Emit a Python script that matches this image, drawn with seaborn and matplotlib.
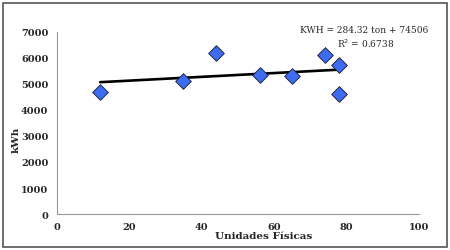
import matplotlib
matplotlib.use('Agg')
import matplotlib.pyplot as plt
import seaborn as sns
import pandas as pd
from matplotlib.patches import Rectangle

unidades = [12, 35, 44, 56, 65, 74, 78, 78]
kwh = [4700, 5100, 6180, 5340, 5280, 6100, 5720, 4590]
x_ticks = [0, 20, 40, 60, 80, 100]
y_ticks = [0, 1000, 2000, 3000, 4000, 5000, 6000, 7000]
equation = 'KWH = 284.32 ton + 74506'
r2_text = 'R$^2$ = 0.6738'

df = pd.DataFrame({'Unidades Físicas': unidades, 'kWh': kwh})

sns.set_style('white')
plt.rcParams['font.family'] = ['DejaVu Serif']

fig = plt.figure(figsize=(4.5, 2.51), dpi=100)
ax = fig.add_axes([0.126, 0.143, 0.805, 0.727])

sns.regplot(x='Unidades Físicas', y='kWh', data=df, ax=ax, ci=None,
            marker='D',
            scatter_kws={'s': 64, 'color': '#3d6cf0', 'edgecolor': '#1a1a2e',
                         'linewidths': 0.6, 'alpha': 1, 'zorder': 3},
            line_kws={'color': 'black', 'lw': 1.9, 'zorder': 2})

ax.set_xlim(0, 100)
ax.set_ylim(0, 7000)
ax.set_xticks(x_ticks)
ax.set_yticks(y_ticks)
ax.tick_params(labelsize=7, length=3, width=0.7, color='#888888', pad=3)
for lab in ax.get_xticklabels() + ax.get_yticklabels():
    lab.set_fontweight('bold')
sns.despine(ax=ax)
for s in ['left', 'bottom']:
    ax.spines[s].set_color('#999999')
    ax.spines[s].set_linewidth(0.8)

ax.set_xlabel('Unidades Físicas', fontsize=7.5, fontweight='bold')
ax.xaxis.set_label_coords(0.57, -0.095)
ax.set_ylabel('kWh', fontsize=7.5, fontweight='bold')
ax.yaxis.set_label_coords(-0.10, 0.41)

ax.text(0.848, 1.009, equation, transform=ax.transAxes, ha='center', va='center', fontsize=6.5)
ax.text(0.852, 0.938, r2_text, transform=ax.transAxes, ha='center', va='center', fontsize=6.5)

fig.patches.append(Rectangle((0.006, 0.012), 0.988, 0.972, transform=fig.transFigure,
                             fill=False, edgecolor='#555555', lw=1.2))

fig.savefig('out.png', dpi=100)
